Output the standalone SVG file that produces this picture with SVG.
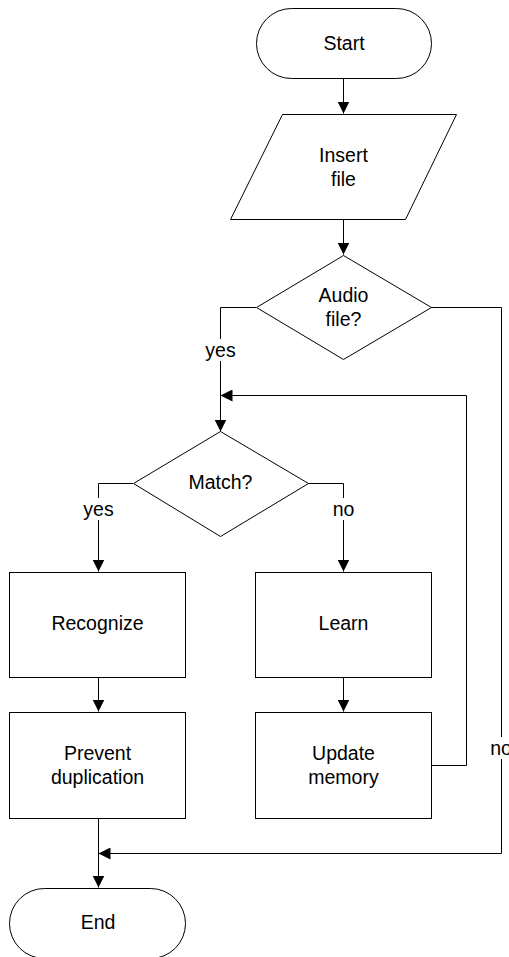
<svg xmlns="http://www.w3.org/2000/svg" width="509" height="957" viewBox="0 0 509 957">
  <style>
    .shape { fill: #ffffff; stroke: #000000; stroke-width: 1; }
    .wire { fill: none; stroke: #000000; stroke-width: 1; }
    .label { font-family: "Liberation Sans", Arial, sans-serif; font-size: 19.5px; fill: #000000; text-anchor: middle; dominant-baseline: central; }
    .bg { fill: #ffffff; stroke: none; }
  </style>
  <defs>
    <marker id="arrow" markerUnits="userSpaceOnUse" markerWidth="12" markerHeight="12" refX="12" refY="6" orient="auto">
      <path d="M0,0 L12,6 L0,12 z" fill="#000000"/>
    </marker>
  </defs>

  <rect width="509" height="957" fill="#ffffff"/>

  <!-- connectors -->
  <g id="connectors">
    <path class="wire" d="M343.5,78 V113.5" marker-end="url(#arrow)"/>
    <path class="wire" d="M343.5,219 V254.5" marker-end="url(#arrow)"/>
    <!-- Audio file? yes -->
    <path class="wire" d="M256,307.5 H220.5 V431.5" marker-end="url(#arrow)"/>
    <!-- Audio file? no -->
    <path class="wire" d="M431,307.5 H501.5 V853.5 H98.5" marker-end="url(#arrow)"/>
    <!-- Match? yes / no -->
    <path class="wire" d="M133,483.5 H98.5 V571.5" marker-end="url(#arrow)"/>
    <path class="wire" d="M308,483.5 H343.5 V571.5" marker-end="url(#arrow)"/>
    <!-- straight steps -->
    <path class="wire" d="M98.5,677 V711.5" marker-end="url(#arrow)"/>
    <path class="wire" d="M343.5,677 V711.5" marker-end="url(#arrow)"/>
    <!-- Update memory loop back -->
    <path class="wire" d="M431,765.5 H466.5 V395.5 H220.5" marker-end="url(#arrow)"/>
    <!-- Prevent duplication to End -->
    <path class="wire" d="M98.5,818 V887.5" marker-end="url(#arrow)"/>

    <!-- branch labels -->
    <rect class="bg" x="203" y="339" width="35" height="22"/>
    <text class="label" x="220.5" y="350">yes</text>
    <rect class="bg" x="81" y="498" width="35" height="22"/>
    <text class="label" x="98.5" y="509">yes</text>
    <rect class="bg" x="330" y="498" width="27" height="22"/>
    <text class="label" x="343.5" y="509">no</text>
    <rect class="bg" x="489" y="737" width="20" height="22"/>
    <text class="label" x="501" y="748">no</text>
  </g>

  <g id="start">
    <rect class="shape" x="256.5" y="8.5" width="175" height="70" rx="35" ry="35"/>
    <text class="label" x="344" y="43">Start</text>
  </g>

  <g id="insert-file">
    <polygon class="shape" points="282.5,114.5 456.5,114.5 405.5,219.5 230.5,219.5"/>
    <text class="label" x="343.5" y="155">Insert</text>
    <text class="label" x="343.5" y="179">file</text>
  </g>

  <g id="audio-file">
    <polygon class="shape" points="343.5,255.5 431.5,307.5 343.5,359.5 256.5,307.5"/>
    <text class="label" x="343.5" y="295">Audio</text>
    <text class="label" x="343.5" y="319">file?</text>
  </g>

  <g id="match">
    <polygon class="shape" points="220.5,431.5 308.5,483.5 220.5,536.5 133.5,483.5"/>
    <text class="label" x="220.5" y="482">Match?</text>
  </g>

  <g id="recognize">
    <rect class="shape" x="9.5" y="572.5" width="176" height="105"/>
    <text class="label" x="97.5" y="623">Recognize</text>
  </g>

  <g id="learn">
    <rect class="shape" x="255.5" y="572.5" width="176" height="105"/>
    <text class="label" x="343.5" y="623">Learn</text>
  </g>

  <g id="prevent-duplication">
    <rect class="shape" x="9.5" y="712.5" width="176" height="106"/>
    <text class="label" x="97.5" y="753">Prevent</text>
    <text class="label" x="97.5" y="777">duplication</text>
  </g>

  <g id="update-memory">
    <rect class="shape" x="255.5" y="712.5" width="176" height="106"/>
    <text class="label" x="343.5" y="753">Update</text>
    <text class="label" x="343.5" y="777">memory</text>
  </g>

  <g id="end">
    <rect class="shape" x="9.5" y="888.5" width="176" height="70" rx="35" ry="35"/>
    <text class="label" x="98" y="922">End</text>
  </g>
</svg>
